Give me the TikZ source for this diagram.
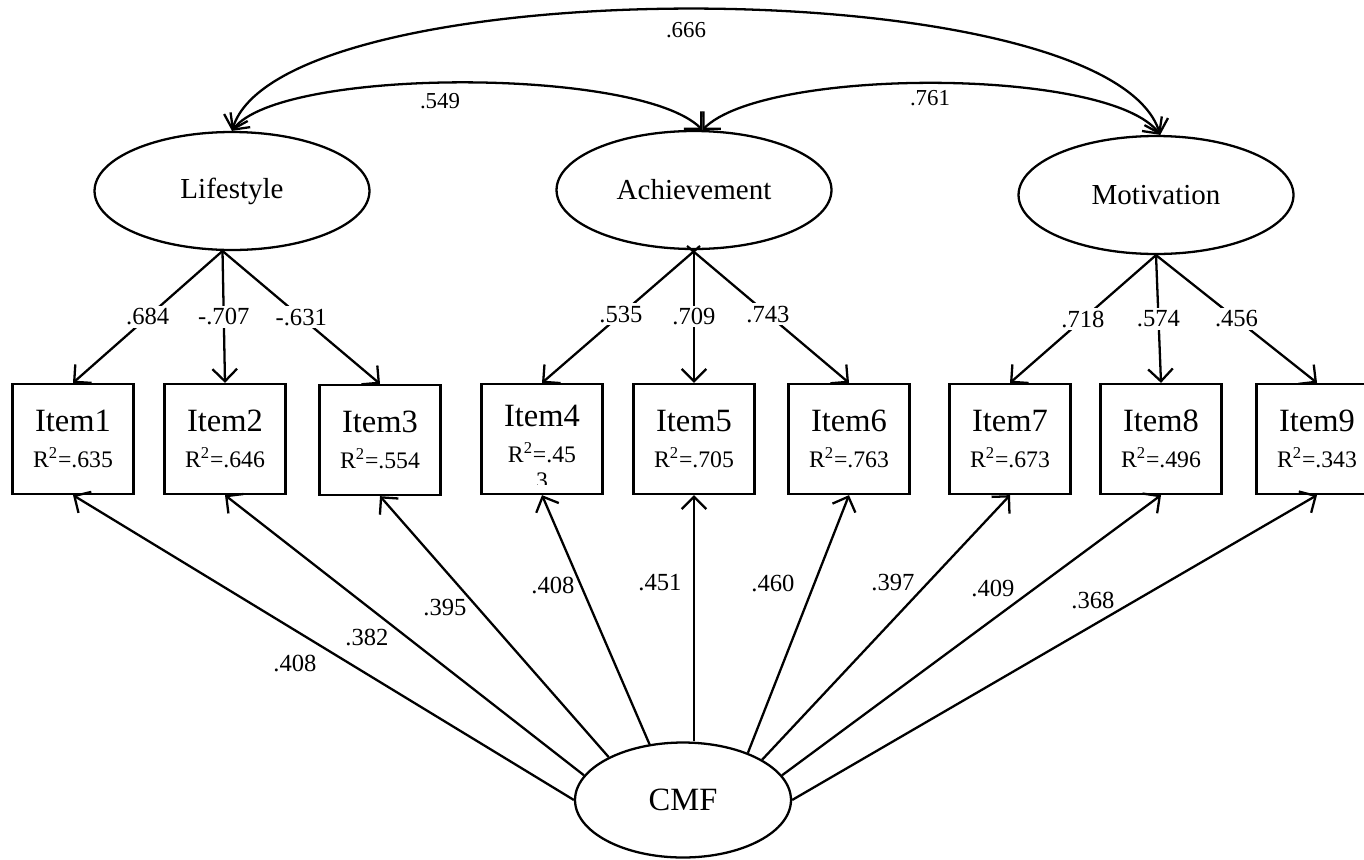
\documentclass[tikz,border=0pt]{standalone}
\usepackage{fontspec}
\setmainfont{Liberation Serif}
\usepackage{tikz}
\usetikzlibrary{shapes.geometric,arrows.meta}
\tikzset{
  line/.style={draw=black, line width=1.3pt},
  arr/.style={line, -{Straight Barb[length=7pt,width=14pt]}},
  corr/.style={line, {Straight Barb[length=7pt,width=14pt]}-{Straight Barb[length=7pt,width=14pt]}},
  latent/.style={ellipse, draw=black, line width=1.3pt, minimum width=5.5cm, minimum height=2.36cm, inner sep=0pt, font=\fontsize{16.5}{18}\selectfont},
  item/.style={rectangle, draw=black, line width=1.3pt, minimum width=2.42cm, minimum height=2.2cm, inner sep=0pt, align=center, font=\fontsize{18.5}{20.5}\selectfont},
  lbl/.style={fill=white, inner sep=1.5pt, font=\fontsize{14}{16}\selectfont},
  blbl/.style={font=\fontsize{14}{16}\selectfont},
  clbl/.style={font=\fontsize{13}{15}\selectfont}
}
\newcommand{\rsq}[1]{{\fontsize{13.5}{15}\selectfont R\textsuperscript{2}=#1}}

\begin{document}
\begin{tikzpicture}[x=0.02cm, y=-0.02cm]
  \useasboundingbox (0,0) rectangle (1364,859);

  \node[latent] (lifestyle) at (232,191) {Lifestyle};
  \node[latent] (achievement) at (694,190) {Achievement};
  \node[latent] (motivation) at (1156,195) {Motivation};
  \node[latent, minimum width=4.32cm, minimum height=2.3cm, font=\fontsize{18.5}{20}\selectfont] (cmf) at (683,800) {CMF};

  \node[item] (item1) at (73,439) {Item1\\\rsq{.635}};
  \node[item] (item2) at (225,439) {Item2\\\rsq{.646}};
  \node[item] (item3) at (380,440) {Item3\\\rsq{.554}};
  \node[item] (item4) at (542,439) {};
  \begin{scope}
    \clip (484,386) rectangle (601,484);
    \node[align=center, font=\fontsize{18.5}{20.5}\selectfont] (item4-txt) at (542,447) {Item4\\\rsq{.45}\\[-6pt]{\fontsize{13.5}{15}\selectfont 3}};
  \end{scope}
  \node[item] (item5) at (694,439) {Item5\\\rsq{.705}};
  \node[item] (item6) at (849,439) {Item6\\\rsq{.763}};
  \node[item] (item7) at (1010,439) {Item7\\\rsq{.673}};
  \node[item] (item8) at (1161,439) {Item8\\\rsq{.496}};
  \node[item] (item9) at (1317,439) {Item9\\\rsq{.343}};

  \coordinate (ach-a) at (700,246);
  \coordinate (ach-b) at (687,246);

  \draw[corr] (lifestyle.north) .. controls (280,-32) and (1110,-32) .. (motivation.86);
  \draw[corr] (lifestyle.north) .. controls (280,67) and (640,67) .. (achievement.82);
  \draw[corr] (achievement.82) .. controls (765,67) and (1110,67) .. (motivation.86);
  \node[clbl] (c-lm) at (686,30) {.666};
  \node[clbl] (c-la) at (440,101) {.549};
  \node[clbl] (c-am) at (930,98) {.761};

  \draw[arr] (lifestyle.261) -- node[lbl] {.684} (item1.north);
  \draw[arr] (lifestyle.261) -- node[lbl] {-.707} (item2.north);
  \draw[arr] (lifestyle.261) -- node[lbl] {-.631} (item3.north);
  \draw[arr] (ach-a) -- node[lbl] {.535} (item4.north);
  \draw[arr] (achievement.south) -- node[lbl] {.709} (item5.north);
  \draw[arr] (ach-b) -- node[lbl] {.743} (item6.north);
  \draw[arr] (motivation.south) -- node[lbl] {.718} (item7.north);
  \draw[arr] (motivation.south) -- node[lbl] {.574} (item8.north);
  \draw[arr] (motivation.south) -- node[lbl] {.456} (item9.north);

  \draw[arr] (cmf.180) -- (item1.south);
  \draw[arr] (cmf.166) -- (item2.south);
  \draw[arr] (cmf.150) -- (item3.south);
  \draw[arr] (cmf.121) -- (item4.south);
  \draw[arr] (cmf.north -| item5.south) -- (item5.south);
  \draw[arr] (cmf.36) -- (item6.south);
  \draw[arr] (cmf.27) -- (item7.south);
  \draw[arr] (cmf.14) -- (item8.south);
  \draw[arr] (cmf.0) -- (item9.south);

  \node[blbl] (b1) at (295,663) {.408};
  \node[blbl] (b2) at (367,637) {.382};
  \node[blbl] (b3) at (445,608) {.395};
  \node[blbl] (b4) at (553,585) {.408};
  \node[blbl] (b5) at (660,583) {.451};
  \node[blbl] (b6) at (773,583) {.460};
  \node[blbl] (b7) at (893,583) {.397};
  \node[blbl] (b8) at (993,588) {.409};
  \node[blbl] (b9) at (1093,600) {.368};
\end{tikzpicture}
\end{document}
